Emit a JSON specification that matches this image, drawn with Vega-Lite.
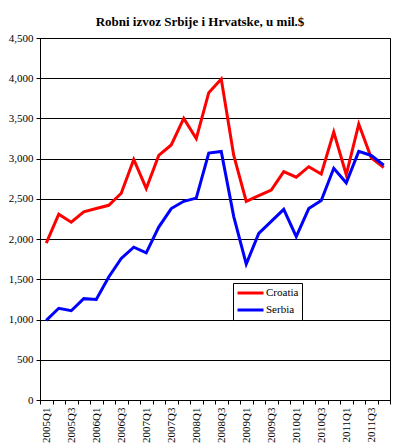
{
  "$schema": "https://vega.github.io/schema/vega-lite/v6.json",
  "width": 350,
  "height": 362,
  "autosize": "none",
  "padding": {"left": 40, "top": 38, "right": 8, "bottom": 48},
  "background": "white",
  "title": {
    "text": "Robni izvoz Srbije i Hrvatske, u mil.$",
    "font": "Liberation Serif",
    "fontSize": 13,
    "fontWeight": "bold",
    "color": "black",
    "anchor": "middle",
    "dx": -15,
    "offset": 3
  },
  "config": {
    "font": "Liberation Serif",
    "view": {"stroke": "black", "strokeWidth": 1},
    "axis": {
      "labelFont": "Liberation Serif",
      "labelFontSize": 11,
      "labelColor": "black",
      "domainColor": "black",
      "tickColor": "black",
      "tickSize": 4,
      "titleFont": "Liberation Serif"
    },
    "legend": {"labelFont": "Liberation Serif"}
  },
  "datasets": {
    "rows": [
      {"q": "2005Q1", "country": "Croatia", "v": 1950}, {"q": "2005Q2", "country": "Croatia", "v": 2310},
      {"q": "2005Q3", "country": "Croatia", "v": 2210}, {"q": "2005Q4", "country": "Croatia", "v": 2340},
      {"q": "2006Q1", "country": "Croatia", "v": 2380}, {"q": "2006Q2", "country": "Croatia", "v": 2420},
      {"q": "2006Q3", "country": "Croatia", "v": 2570}, {"q": "2006Q4", "country": "Croatia", "v": 2990},
      {"q": "2007Q1", "country": "Croatia", "v": 2630}, {"q": "2007Q2", "country": "Croatia", "v": 3040},
      {"q": "2007Q3", "country": "Croatia", "v": 3170}, {"q": "2007Q4", "country": "Croatia", "v": 3500},
      {"q": "2008Q1", "country": "Croatia", "v": 3250}, {"q": "2008Q2", "country": "Croatia", "v": 3820},
      {"q": "2008Q3", "country": "Croatia", "v": 3990}, {"q": "2008Q4", "country": "Croatia", "v": 3040},
      {"q": "2009Q1", "country": "Croatia", "v": 2470}, {"q": "2009Q2", "country": "Croatia", "v": 2540},
      {"q": "2009Q3", "country": "Croatia", "v": 2610}, {"q": "2009Q4", "country": "Croatia", "v": 2840},
      {"q": "2010Q1", "country": "Croatia", "v": 2770}, {"q": "2010Q2", "country": "Croatia", "v": 2900},
      {"q": "2010Q3", "country": "Croatia", "v": 2810}, {"q": "2010Q4", "country": "Croatia", "v": 3330},
      {"q": "2011Q1", "country": "Croatia", "v": 2800}, {"q": "2011Q2", "country": "Croatia", "v": 3430},
      {"q": "2011Q3", "country": "Croatia", "v": 3010}, {"q": "2011Q4", "country": "Croatia", "v": 2890},
      {"q": "2005Q1", "country": "Serbia", "v": 990}, {"q": "2005Q2", "country": "Serbia", "v": 1140},
      {"q": "2005Q3", "country": "Serbia", "v": 1110}, {"q": "2005Q4", "country": "Serbia", "v": 1260},
      {"q": "2006Q1", "country": "Serbia", "v": 1250}, {"q": "2006Q2", "country": "Serbia", "v": 1530},
      {"q": "2006Q3", "country": "Serbia", "v": 1760}, {"q": "2006Q4", "country": "Serbia", "v": 1900},
      {"q": "2007Q1", "country": "Serbia", "v": 1830}, {"q": "2007Q2", "country": "Serbia", "v": 2150},
      {"q": "2007Q3", "country": "Serbia", "v": 2380}, {"q": "2007Q4", "country": "Serbia", "v": 2470},
      {"q": "2008Q1", "country": "Serbia", "v": 2510}, {"q": "2008Q2", "country": "Serbia", "v": 3070},
      {"q": "2008Q3", "country": "Serbia", "v": 3090}, {"q": "2008Q4", "country": "Serbia", "v": 2280},
      {"q": "2009Q1", "country": "Serbia", "v": 1690}, {"q": "2009Q2", "country": "Serbia", "v": 2070},
      {"q": "2009Q3", "country": "Serbia", "v": 2220}, {"q": "2009Q4", "country": "Serbia", "v": 2370},
      {"q": "2010Q1", "country": "Serbia", "v": 2030}, {"q": "2010Q2", "country": "Serbia", "v": 2380},
      {"q": "2010Q3", "country": "Serbia", "v": 2480}, {"q": "2010Q4", "country": "Serbia", "v": 2880},
      {"q": "2011Q1", "country": "Serbia", "v": 2700}, {"q": "2011Q2", "country": "Serbia", "v": 3090},
      {"q": "2011Q3", "country": "Serbia", "v": 3040}, {"q": "2011Q4", "country": "Serbia", "v": 2920}
    ]
  },
  "data": {"name": "rows"},
  "mark": {"type": "line", "strokeWidth": 3},
  "encoding": {
    "x": {
      "field": "q",
      "type": "ordinal",
      "sort": null,
      "bandPosition": 0.5,
      "scale": {"type": "band", "paddingInner": 0, "paddingOuter": 0},
      "axis": {
        "title": null,
        "labelFont": "Liberation Serif",
        "labelFontSize": 11,
        "labelAngle": -90,
        "labelAlign": "right",
        "labelBaseline": "middle",
        "labelPadding": 3,
        "tickBand": "extent",
        "grid": false,
        "labelExpr": "(substring(datum.value,5,6) == '1' || substring(datum.value,5,6) == '3') ? datum.value : ''"
      }
    },
    "y": {
      "field": "v",
      "type": "quantitative",
      "scale": {"domain": [0, 4500], "nice": false},
      "axis": {
        "title": null,
        "labelFont": "Liberation Serif",
        "labelFontSize": 11,
        "values": [0, 500, 1000, 1500, 2000, 2500, 3000, 3500, 4000, 4500],
        "format": ",d",
        "grid": true,
        "gridColor": "black",
        "gridWidth": 1,
        "labelPadding": 3
      }
    },
    "color": {
      "field": "country",
      "type": "nominal",
      "scale": {"domain": ["Croatia", "Serbia"], "range": ["#ff0000", "#0000ff"]},
      "legend": {
        "title": null,
        "orient": "none",
        "legendX": 193,
        "legendY": 245,
        "direction": "vertical",
        "strokeColor": "black",
        "fillColor": "white",
        "padding": 3,
        "symbolType": "stroke",
        "symbolSize": 676,
        "symbolStrokeWidth": 3,
        "clipHeight": 14,
        "labelFont": "Liberation Serif",
        "labelFontSize": 11,
        "labelColor": "black",
        "labelOffset": 1,
        "rowPadding": 3,
        "cornerRadius": 0
      }
    }
  }
}
